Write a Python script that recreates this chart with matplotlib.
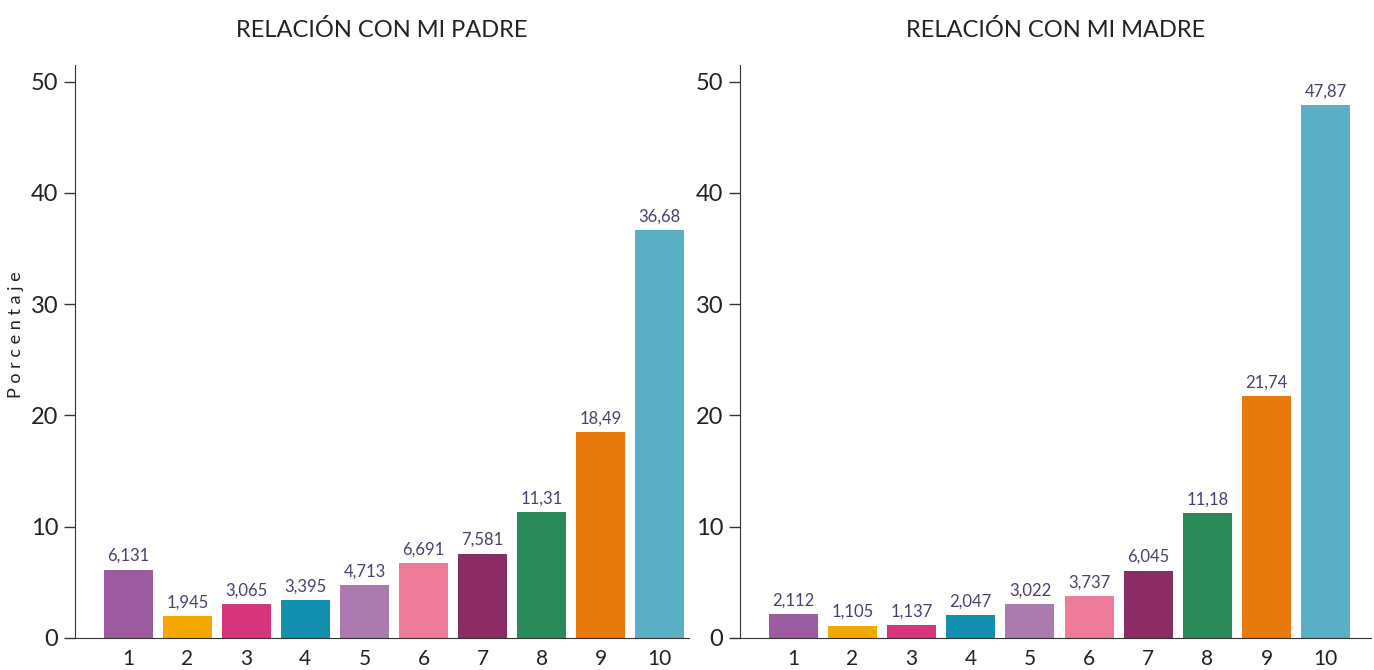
import matplotlib.pyplot as plt

categories = [1, 2, 3, 4, 5, 6, 7, 8, 9, 10]
padre = [6.131, 1.945, 3.065, 3.395, 4.713, 6.691, 7.581, 11.31, 18.49, 36.68]
madre = [2.112, 1.105, 1.137, 2.047, 3.022, 3.737, 6.045, 11.18, 21.74, 47.87]
titles = ['RELACIÓN CON MI PADRE', 'RELACIÓN CON MI MADRE']
colors = ['#9c5b9e', '#f2a800', '#d6357b', '#1390b0', '#ab7aae',
          '#ee7b9a', '#8b2c64', '#2b8a5a', '#e8790c', '#5bafc5']

plt.rcParams['font.family'] = ['Lato', 'DejaVu Sans']

fig = plt.figure(figsize=(13.74, 6.7), dpi=100)
ax1 = fig.add_axes([0.0546, 0.048, 0.447, 0.855])
ax2 = fig.add_axes([0.5386, 0.048, 0.459, 0.855])

for ax, vals, title, xmax in [(ax1, padre, titles[0], 10.5), (ax2, madre, titles[1], 10.76)]:
    ax.bar(categories, vals, width=0.83, color=colors)
    for x, v in zip(categories, vals):
        ax.text(x, v + 0.5, f'{v:.4g}'.replace('.', ','), ha='center', va='bottom',
                fontsize=12, color='#4a4070')
    ax.set_xlim(0.1, xmax)
    ax.set_ylim(0, 51.5)
    ax.set_yticks([0, 10, 20, 30, 40, 50])
    ax.set_xticks(categories)
    ax.spines['top'].set_visible(False)
    ax.spines['right'].set_visible(False)
    ax.spines['left'].set_color('#333333')
    ax.spines['bottom'].set_color('#333333')
    ax.tick_params(axis='y', length=8, width=1, color='#333333', labelsize=17, pad=4,
                   labelcolor='#222222')
    ax.tick_params(axis='x', length=0, labelsize=15, pad=8, labelcolor='#222222')
    ax.set_title(title, fontsize=17, pad=20, color='#222222')

fig.text(0.012, 0.5, ' '.join('Porcentaje'), rotation=90, va='center', ha='center',
         fontsize=13, color='#222222')

fig.savefig('out.png', dpi=100)
